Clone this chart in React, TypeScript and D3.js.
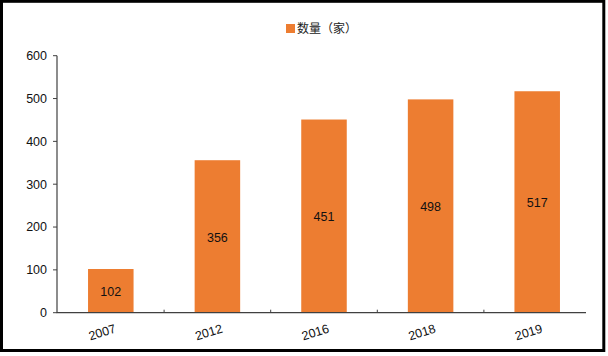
import React from "react";
import * as d3 from "d3";

const categories = ["2007", "2012", "2016", "2018", "2019"];
const values = [102, 356, 451, 498, 517];
const yTicks = [0, 100, 200, 300, 400, 500, 600];
const legendLabel = "数量（家）";

const W = 608;
const H = 356;
const ORANGE = "#ED7D31";
const FONT = "'Liberation Sans', Arial, sans-serif";

export default function App() {
  const y = d3.scaleLinear().domain([0, 600]).range([312.7, 55.7]);
  const x = d3
    .scaleBand<string>()
    .domain(categories)
    .range([57.5, 590.5])
    .paddingInner(0.573)
    .paddingOuter(0.2865);
  const step = x.step();
  const bw = x.bandwidth();
  const y0 = y(0);

  return (
    <svg
      width={W}
      height={H}
      style={{ position: "absolute", left: 0, top: 0, background: "#fff" }}
      fontFamily={FONT}
    >
      <rect x={1.5} y={1.3} width={602.3} height={349.2} fill="#fff" stroke="#000" strokeWidth={3} />

      {/* legend */}
      <rect x={286} y={24} width={9} height={9} fill={ORANGE} />
      <text x={297} y={33} fontSize={12} fill="#222" fontFamily="'Noto Sans CJK SC', sans-serif">
        {legendLabel}
      </text>

      {/* bars */}
      {categories.map((c, i) => (
        <g key={c}>
          <rect x={x(c)} y={y(values[i])} width={bw} height={y0 - y(values[i])} fill={ORANGE} />
          <text
            x={(x(c) as number) + bw / 2}
            y={(y(values[i]) + y0) / 2 + 1}
            dy="0.35em"
            textAnchor="middle"
            fontSize={12.5}
            fill="#111"
          >
            {values[i]}
          </text>
        </g>
      ))}

      {/* y axis */}
      <line x1={57} x2={57} y1={y(600)} y2={y0} stroke="#404040" strokeWidth={1.2} />
      {yTicks.map((t) => (
        <g key={t}>
          <line x1={53} x2={57} y1={y(t)} y2={y(t)} stroke="#404040" strokeWidth={1} />
          <text x={47} y={y(t)} dy="0.35em" textAnchor="end" fontSize={12.5} fill="#111">
            {t}
          </text>
        </g>
      ))}

      {/* x axis */}
      <line x1={56.5} x2={586} y1={y0} y2={y0} stroke="#404040" strokeWidth={1.3} />
      {categories.slice(0, -1).map((c) => {
        const tx = (x(c) as number) + bw + (step - bw) / 2;
        return <line key={c} x1={tx} x2={tx} y1={y0} y2={y0 - 3} stroke="#404040" strokeWidth={1} />;
      })}
      {categories.map((c) => {
        const cx = (x(c) as number) + bw / 2 + 3;
        return (
          <text
            key={c}
            transform={`translate(${cx},${y0 + 10}) rotate(-17)`}
            textAnchor="end"
            dy="0.8em"
            fontSize={12.5}
            fill="#111"
          >
            {c}
          </text>
        );
      })}
    </svg>
  );
}
